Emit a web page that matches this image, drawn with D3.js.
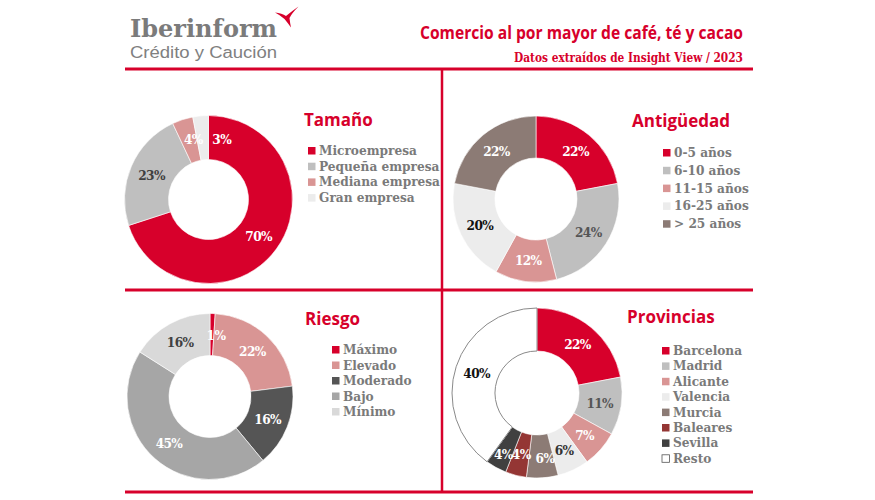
<!DOCTYPE html>
<html><head><meta charset="utf-8">
<script src="https://cdn.jsdelivr.net/npm/d3@7"></script>
<style>body{margin:0;background:#fff}</style>
</head><body>
<svg id="c" width="875" height="500"></svg>
<script>
// ---- data ----
const tamanoCats = ["Microempresa","Pequeña empresa","Mediana empresa","Gran empresa"];
const tamanoVals = [70,23,4,3];
const antigCats = ["0-5 años","6-10 años","11-15 años","16-25 años","> 25 años"];
const antigVals = [22,24,12,20,22];
const riesgoCats = ["Máximo","Elevado","Moderado","Bajo","Mínimo"];
const riesgoVals = [1,22,16,45,16];
const provCats = ["Barcelona","Madrid","Alicante","Valencia","Murcia","Baleares","Sevilla","Resto"];
const provVals = [22,11,7,6,6,4,4,40];

// ---- style ----
const RED = "#d7002b";
const SERIF = "'DejaVu Serif Condensed','DejaVu Serif',serif";
const SANS = "'Open Sans','Noto Sans',sans-serif";
const svg = d3.select("#c");

// frame lines
const lines = [
  [125,69,753,69,3],[125,290,753,290,3],[125,492,753,492,3],[442,69,442,492,2.5]
];
svg.selectAll("line.frame").data(lines).join("line").attr("class","frame")
  .attr("x1",d=>d[0]).attr("y1",d=>d[1]).attr("x2",d=>d[2]).attr("y2",d=>d[3])
  .attr("stroke",RED).attr("stroke-width",d=>d[4]);

// logo
svg.append("text").attr("x",130).attr("y",36.5).text("Iberinform")
  .attr("font-family",SERIF).attr("font-weight","bold").attr("font-size",25)
  .attr("fill","#7b7b7b").attr("textLength",147).attr("lengthAdjust","spacingAndGlyphs");
svg.append("text").attr("x",130).attr("y",58).text("Crédito y Caución")
  .attr("font-family","'Liberation Sans',Arimo,sans-serif").attr("font-size",16)
  .attr("fill","#808080").attr("textLength",147).attr("lengthAdjust","spacingAndGlyphs");
svg.append("path")
  .attr("d","M275,12.5 Q282,13 286,16 Q292,11 298.5,6.5 Q292,13 289.5,18 Q290,23 291,27.5 Q287,22 284.5,19 Q280,15 275,12.5 Z")
  .attr("fill",RED);

// title
svg.append("text").attr("x",743).attr("y",39).attr("text-anchor","end")
  .text("Comercio al por mayor de café, té y cacao")
  .attr("font-family",SANS).attr("font-weight","bold").attr("font-size",17)
  .attr("fill",RED).attr("textLength",323).attr("lengthAdjust","spacingAndGlyphs");
svg.append("text").attr("x",743).attr("y",62).attr("text-anchor","end")
  .text("Datos extraídos de Insight View / 2023")
  .attr("font-family",SERIF).attr("font-weight","bold").attr("font-size",12.5)
  .attr("fill",RED).attr("textLength",229).attr("lengthAdjust","spacingAndGlyphs");

const panels = [
  {title:"Tamaño", cats:tamanoCats, vals:tamanoVals,
   cx:208.5, cy:199.5, ro:84, ri:40,
   colors:[RED,"#bfbfbf","#d99594","#ececec"],
   labelColors:["#fff","#404040","#fff","#fff"],
   nudge:{2:[4,-1],3:[19,1]},
   tx:304, ty:126, lx:308, ly:155, lh:15.7},
  {title:"Antigüedad", cats:antigCats, vals:antigVals,
   cx:536, cy:199, ro:83, ri:41,
   colors:[RED,"#bfbfbf","#d99594","#ececec","#8c7b75"],
   labelColors:["#fff","#555","#fff","#111","#fff"],
   nudge:{},
   tx:632, ty:127, lx:663, ly:157, lh:17.8},
  {title:"Riesgo", cats:riesgoCats, vals:riesgoVals,
   cx:210, cy:396.5, ro:83, ri:41,
   colors:[RED,"#d99594","#555555","#a6a6a6","#d9d9d9"],
   labelColors:["#fff","#fff","#fff","#fff","#404040"],
   nudge:{0:[4,1]},
   tx:305, ty:325, lx:332, ly:354, lh:15.5},
  {title:"Provincias", cats:provCats, vals:provVals,
   cx:537, cy:393, ro:85, ri:42,
   colors:[RED,"#bfbfbf","#d99594","#ececec","#8c7b75","#943634","#404040","#ffffff"],
   labelColors:["#fff","#555","#fff","#333","#fff","#fff","#fff","#111"],
   nudge:{4:[4,2],6:[-3,5]},
   tx:627, ty:323, lx:662, ly:355, lh:15.4}
];

panels.forEach(p => {
  const data = p.cats.map((c,i)=>({c, v:p.vals[i], i}));
  const pie = d3.pie().sort(null).value(d=>d.v);
  const arcs = pie(data);
  const arc = d3.arc().innerRadius(p.ri).outerRadius(p.ro);
  const lab = d3.arc().innerRadius((p.ri+p.ro)/2).outerRadius((p.ri+p.ro)/2);
  const g = svg.append("g").attr("transform",`translate(${p.cx},${p.cy})`);
  g.selectAll("path").data(arcs).join("path")
    .attr("d",arc)
    .attr("fill",d=>p.colors[d.data.i])
    .attr("stroke",d=>p.colors[d.data.i]==="#ffffff" ? "#8a8a8a" : "#fff")
    .attr("stroke-width",d=>p.colors[d.data.i]==="#ffffff" ? 1 : 0.6);
  g.selectAll("text").data(arcs).join("text")
    .attr("transform",d=>{
      const [x,y]=lab.centroid(d); const n=p.nudge[d.data.i]||[0,0];
      return `translate(${x+n[0]},${y+n[1]})`;})
    .attr("text-anchor","middle").attr("dy","0.36em")
    .attr("font-family",SERIF).attr("font-weight","bold").attr("font-size",13.5)
    .attr("letter-spacing",-0.6)
    .attr("fill",d=>p.labelColors[d.data.i])
    .text(d=>d.data.v+"%");

  svg.append("text").attr("x",p.tx).attr("y",p.ty).text(p.title)
    .attr("font-family",SANS).attr("font-weight","bold").attr("font-size",17).attr("fill",RED);

  const lg = svg.append("g");
  const rows = lg.selectAll("g").data(data).join("g")
    .attr("transform",d=>`translate(${p.lx},${p.ly + d.i*p.lh})`);
  rows.append("rect").attr("x",0).attr("y",-8).attr("width",7.5).attr("height",7.5)
    .attr("fill",d=>p.colors[d.i])
    .attr("stroke",d=>p.colors[d.i]==="#ffffff" ? "#555" : "none").attr("stroke-width",0.8);
  rows.append("text").attr("x",11).attr("y",0).text(d=>d.c)
    .attr("font-family",SERIF).attr("font-weight","bold").attr("font-size",13.5)
    .attr("fill","#7a7a7a");
});
</script>
</body></html>
